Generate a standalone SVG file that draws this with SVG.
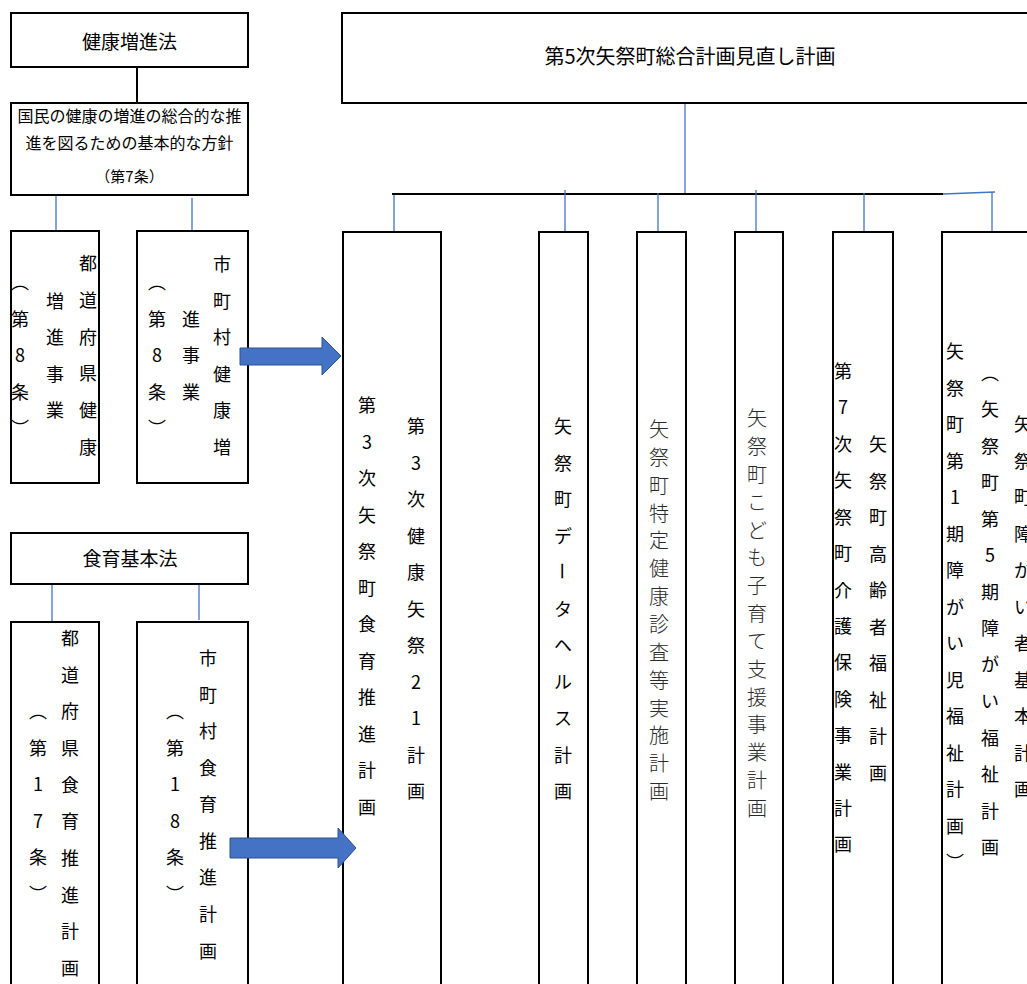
<svg xmlns="http://www.w3.org/2000/svg" width="1027" height="984" viewBox="0 0 1027 984">
<style>
.box{fill:#fff;stroke:#000;stroke-width:2}
.v{font-family:"Noto Sans CJK JP","Noto Sans CJK SC",sans-serif;font-size:18px;text-anchor:middle;dominant-baseline:central;fill:#000}
.vl{font-family:"Noto Sans CJK JP","Noto Sans CJK SC",sans-serif;font-size:20px;font-weight:300;text-anchor:middle;dominant-baseline:central;fill:#2a2a2a}
.h{font-family:"Noto Sans CJK JP","Noto Sans CJK SC",sans-serif;text-anchor:middle;dominant-baseline:central;fill:#000}
.bl{stroke:#4472C4;stroke-width:1.3;fill:none}
.bk{stroke:#000;stroke-width:2;fill:none}
.arrow{fill:#4472C4;stroke:#2F528F;stroke-width:1}
</style>
<rect width="1027" height="984" fill="#fff"/>
<g id="connectors">
<line class="bk" x1="137" y1="67" x2="137" y2="103"/>
<line class="bl" x1="56" y1="195" x2="56" y2="231"/>
<line class="bl" x1="192" y1="198" x2="192" y2="231"/>
<line class="bl" x1="52" y1="585" x2="52" y2="622"/>
<line class="bl" x1="199" y1="585" x2="199" y2="620"/>
<line class="bl" x1="685" y1="103" x2="685" y2="193"/>
<line class="bk" x1="392" y1="194" x2="943" y2="194"/>
<line class="bl" x1="943" y1="194" x2="995" y2="192"/>
<line class="bl" x1="394" y1="195" x2="394" y2="232"/>
<line class="bl" x1="565" y1="190" x2="565" y2="232"/>
<line class="bl" x1="658" y1="193" x2="658" y2="232"/>
<line class="bl" x1="756" y1="190" x2="756" y2="232"/>
<line class="bl" x1="864" y1="193" x2="864" y2="232"/>
<line class="bl" x1="992" y1="192" x2="992" y2="232"/>
</g>
<g id="n-kenko-law">
<rect class="box" x="11" y="13" width="237" height="54"/>
<text class="h" x="129.5" y="40" font-size="19">健康増進法</text>
</g>
<g id="n-kihon-hoshin">
<rect class="box" x="11" y="103" width="237" height="92"/>
<text class="h" x="129.5" y="115" font-size="16">国民の健康の増進の総合的な推</text>
<text class="h" x="129.5" y="142" font-size="16">進を図るための基本的な方針</text>
<text class="h" x="129.5" y="175" font-size="15">（第7条）</text>
</g>
<g id="n-pref-kenko">
<rect class="box" x="11" y="231" width="88" height="252"/>
<text class="v" x="88 88 88 88 88 88" y="262 299 336 372 409 446">都道府県健康</text>
<text class="v" x="55 55 55 55" y="300 336 373 409">増進事業</text>
<text class="v" x="20 20 20 20 20" y="281 318 354 391 427">︵第8条︶</text>
</g>
<g id="n-muni-kenko">
<rect class="box" x="137" y="231" width="111" height="252"/>
<text class="v" x="222 222 222 222 222 222" y="263 300 336 373 409 446">市町村健康増</text>
<text class="v" x="191 191 191" y="318 354 391">進事業</text>
<text class="v" x="157 157 157 157 157" y="281 318 354 391 427">︵第8条︶</text>
</g>
<g id="n-shokuiku-law">
<rect class="box" x="11" y="533" width="237" height="51"/>
<text class="h" x="130" y="557" font-size="19">食育基本法</text>
</g>
<g id="n-pref-shokuiku">
<rect class="box" x="11" y="622" width="88" height="380"/>
<text class="v" x="70 70 70 70 70 70 70 70 70 70" y="637 674 710 747 784 820 857 894 930 967">都道府県食育推進計画</text>
<text class="v" x="38 38 38 38 38 38" y="710 747 783 820 856 893">︵第17条︶</text>
</g>
<g id="n-muni-shokuiku">
<rect class="box" x="137" y="622" width="111" height="380"/>
<text class="v" x="208 208 208 208 208 208 208 208 208" y="657 694 730 767 803 840 876 913 950">市町村食育推進計画</text>
<text class="v" x="175 175 175 175 175 175" y="710 747 783 820 856 893">︵第18条︶</text>
</g>
<g id="n-sogo">
<rect class="box" x="342" y="13" width="700" height="90"/>
<text class="h" x="690" y="55" font-size="20">第5次矢祭町総合計画見直し計画</text>
</g>
<g id="n-kenko21">
<rect class="box" x="343" y="232" width="98" height="770"/>
<text class="v" x="416 416 416 416 416 416 416 416 416 416 416" y="425 462 498 535 571 608 644 681 717 754 790">第3次健康矢祭21計画</text>
<text class="v" x="367 367 367 367 367 367 367 367 367 367 367 367" y="404 441 477 514 550 587 623 660 696 733 769 806">第3次矢祭町食育推進計画</text>
</g>
<g id="n-datahealth">
<rect class="box" x="539" y="232" width="49" height="770"/>
<text class="v" x="563 563 563 563" y="425 462 498 535">矢祭町デ</text>
<text class="v" x="563" y="571" transform="rotate(90 563 571)">ー</text>
<text class="v" x="563 563 563 563 563 563" y="608 644 681 717 754 790">タヘルス計画</text>
</g>
<g id="n-tokutei">
<rect class="box" x="637" y="232" width="49" height="770"/>
<text class="vl" x="659 659 659 659 659 659 659 659 659 659 659 659 659 659" y="428 456 484 512 539 567 595 623 651 679 707 734 762 790">矢祭町特定健康診査等実施計画</text>
</g>
<g id="n-kodomo">
<rect class="box" x="735" y="232" width="48" height="770"/>
<text class="vl" x="757 757 757 757 757 757 757 757 757 757 757 757 757 757 757" y="417 445 473 501 529 556 584 612 640 668 696 723 751 779 807">矢祭町こども子育て支援事業計画</text>
</g>
<g id="n-koureisha">
<rect class="box" x="833" y="232" width="60" height="770"/>
<text class="v" x="878 878 878 878 878 878 878 878 878 878" y="443 480 516 553 589 626 662 699 735 772">矢祭町高齢者福祉計画</text>
<text class="v" x="843 843 843 843 843 843 843 843 843 843 843 843 843 843" y="370 406 443 479 516 552 589 625 661 698 734 771 807 843">第7次矢祭町介護保険事業計画</text>
</g>
<g id="n-shougai">
<rect class="box" x="942" y="232" width="100" height="770"/>
<text class="v" x="1023 1023 1023 1023 1023 1023 1023 1023 1023 1023 1023" y="423 460 496 533 569 606 642 679 715 752 788">矢祭町障がい者基本計画</text>
<text class="v" x="990 990 990 990 990 990 990 990 990 990 990 990 990 990" y="372 408 445 481 518 554 591 627 663 700 737 773 810 846">︵矢祭町第5期障がい福祉計画</text>
<text class="v" x="955 955 955 955 955 955 955 955 955 955 955 955 955 955 955" y="350 387 423 460 496 533 569 606 642 679 715 752 788 825 861">矢祭町第1期障がい児福祉計画︶</text>
</g>
<g id="arrows">
<path class="arrow" d="M240,348 H322 V337 L341,356 L322,375 V365 H240 Z"/>
<path class="arrow" d="M230,838 H338 V828 L356,848 L338,868 V858 H230 Z"/>
</g>
</svg>
